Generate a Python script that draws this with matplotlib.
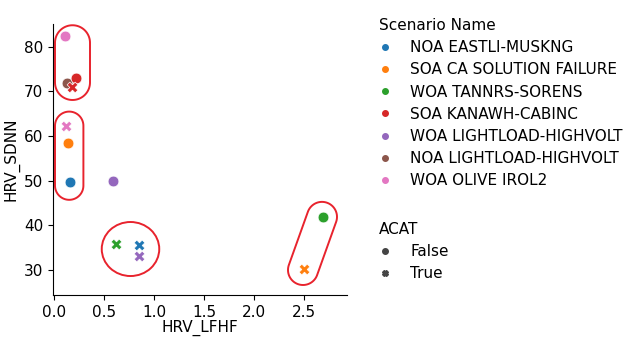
import numpy as np
import matplotlib
matplotlib.use("Agg")
import matplotlib.pyplot as plt
from matplotlib.lines import Line2D
from matplotlib.patches import Ellipse, Polygon
from matplotlib.transforms import IdentityTransform

plt.rcParams["font.family"] = "DejaVu Sans"
plt.rcParams["font.size"] = 11

SCENARIOS = [
    "NOA EASTLI-MUSKNG",
    "SOA CA SOLUTION FAILURE",
    "WOA TANNRS-SORENS",
    "SOA KANAWH-CABINC",
    "WOA LIGHTLOAD-HIGHVOLT",
    "NOA LIGHTLOAD-HIGHVOLT",
    "WOA OLIVE IROL2",
]
COLORS = ["#1f77b4", "#ff7f0e", "#2ca02c", "#d62728", "#9467bd", "#8c564b", "#e377c2"]

# points: scenario index, ACAT flag, HRV_LFHF, HRV_SDNN
scenario_idx = [6, 5, 3, 3, 6, 1, 0, 4, 2, 0, 4, 2, 1]
acat = [False, False, False, True, True, False, False, False, True, True, True, False, True]
hrv_lfhf = [0.11, 0.13, 0.22, 0.18, 0.12, 0.14, 0.16, 0.59, 0.62, 0.85, 0.85, 2.69, 2.50]
hrv_sdnn = [82.4, 71.8, 72.9, 71.1, 62.3, 58.5, 49.7, 49.9, 35.8, 35.5, 33.1, 41.9, 30.3]

# red hand-drawn groupings (data endpoints + radius in px)
stadiums = [((0.185, 80.9), (0.185, 72.0), 17.5),
            ((0.152, 62.3), (0.152, 48.9), 14.2),
            ((2.49, 30.0), (2.68, 41.9), 15.0)]
circle_center = (0.765, 34.7)
circle_size = (0.575, 12.1)
RED = "#e8232d"

W, H = 630, 341
fig = plt.figure(figsize=(W / 100, H / 100), dpi=100)
ax = fig.add_axes([53 / W, (H - 295) / H, (347 - 53) / W, (295 - 24) / H])

for i, f, x, y in zip(scenario_idx, acat, hrv_lfhf, hrv_sdnn):
    ax.scatter(x, y, s=60, color=COLORS[i], marker="X" if f else "o",
               edgecolor="white", linewidth=0.5, zorder=3)

ax.set_xlim(-0.01, 2.93)
ax.set_ylim(24.4, 85.1)
ax.set_xticks([0.0, 0.5, 1.0, 1.5, 2.0, 2.5])
ax.set_yticks([30, 40, 50, 60, 70, 80])
ax.set_xlabel("HRV_LFHF", labelpad=0)
ax.set_ylabel("HRV_SDNN", labelpad=3)
ax.spines["top"].set_visible(False)
ax.spines["right"].set_visible(False)

# annotation shapes
fig.canvas.draw()
for p1, p2, r in stadiums:
    a = ax.transData.transform(p1)
    b = ax.transData.transform(p2)
    d = b - a
    ang = np.arctan2(d[1], d[0])
    t1 = np.linspace(ang + np.pi / 2, ang + 3 * np.pi / 2, 40)
    t2 = np.linspace(ang - np.pi / 2, ang + np.pi / 2, 40)
    pts = np.vstack([np.c_[a[0] + r * np.cos(t1), a[1] + r * np.sin(t1)],
                     np.c_[b[0] + r * np.cos(t2), b[1] + r * np.sin(t2)]])
    ax.add_artist(Polygon(pts, closed=True, fill=False, edgecolor=RED, linewidth=1.4,
                          transform=IdentityTransform(), clip_on=False))
ax.add_patch(Ellipse(circle_center, circle_size[0], circle_size[1], fill=False,
                     edgecolor=RED, linewidth=1.4, clip_on=False))

h1 = [Line2D([], [], marker="o", linestyle="", color=c, markersize=4) for c in COLORS]
fig.legend(h1, SCENARIOS, title="Scenario Name", loc="upper left",
           bbox_to_anchor=(379 / W, 1 - 18 / H), frameon=False, borderpad=0,
           borderaxespad=0, handlelength=0.8, handletextpad=1.25, labelspacing=0.47,
           alignment="left", fontsize=11, title_fontsize=11)
h2 = [Line2D([], [], marker=m, linestyle="", color="#444444", markersize=4) for m in ["o", "X"]]
fig.legend(h2, ["False", "True"], title="ACAT", loc="upper left",
           bbox_to_anchor=(379 / W, 1 - 222 / H), frameon=False, borderpad=0,
           borderaxespad=0, handlelength=0.8, handletextpad=1.25, labelspacing=0.47,
           alignment="left", fontsize=11, title_fontsize=11)

fig.savefig("out.png", dpi=100)
